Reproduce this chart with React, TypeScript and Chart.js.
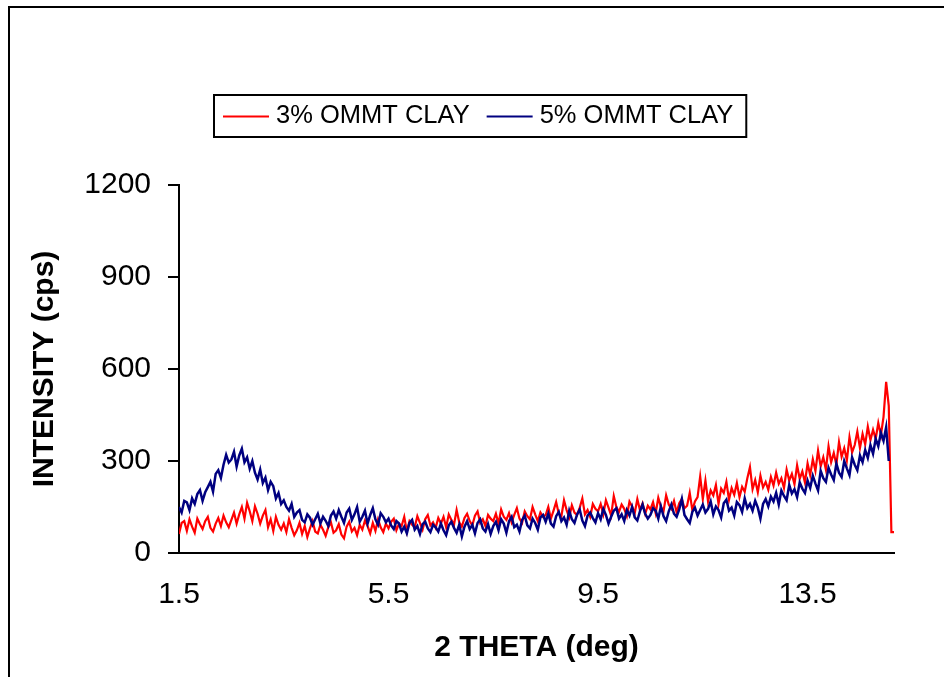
import { useEffect, useRef } from "react";
import { Chart, registerables } from "chart.js";

Chart.register(...registerables);

// ---- data ----
const THETA_START = 1.5;
const THETA_STEP = 0.05;
const X_TICKS = [1.5, 5.5, 9.5, 13.5];
const Y_MIN = 0;
const Y_MAX = 1200;
const Y_STEP = 300;
const SERIES_NAMES = ["3% OMMT CLAY", "5% OMMT CLAY"];
const SERIES_COLORS = ["#FF0000", "#000080"];
const X_TITLE = "2 THETA (deg)";
const Y_TITLE = "INTENSITY (cps)";

// 3% OMMT clay, 2θ = 1.50 ... 15.15 step 0.05
const clay3 = [
  62, 98, 104, 72, 110, 86, 66, 112, 94, 78, 104, 118, 82, 70, 96, 114, 88, 122, 100, 84,
  108, 132, 96, 126, 150, 112, 164, 136, 104, 152, 128, 96, 122, 140, 84, 110, 72, 118, 92, 76,
  96, 68, 110, 82, 58, 74, 98, 62, 88, 52, 80, 104, 70, 64, 92, 76, 56, 84, 100, 66,
  74, 94, 60, 48, 86, 102, 70, 82, 58, 92, 76, 106, 88, 64, 98, 72, 110, 84, 68, 96,
  80, 102, 112, 74, 96, 88, 118, 70, 104, 92, 84, 120, 98, 76, 110, 124, 90, 100, 82, 114,
  96, 118, 84, 126, 108, 92, 140, 100, 86, 114, 128, 104, 90, 122, 136, 98, 110, 88, 124, 112,
  104, 128, 96, 142, 118, 108, 130, 100, 124, 146, 112, 98, 136, 120, 110, 150, 126, 104, 132, 118,
  124, 150, 112, 138, 166, 128, 120, 172, 140, 116, 156, 132, 124, 148, 178, 126, 140, 118, 160, 144,
  136, 160, 126, 172, 148, 122, 186, 150, 134, 158, 144, 120, 168, 152, 130, 176, 140, 162, 128, 154,
  142, 166, 130, 180, 150, 136, 188, 158, 144, 170, 132, 162, 176, 146, 154, 196, 140, 168, 182, 250,
  176, 236, 168, 204, 188, 222, 160, 210, 196, 232, 174, 212, 190, 228, 182, 216, 200, 244, 280, 208,
  238, 198, 252, 214, 232, 206, 248, 220, 262, 226, 244, 212, 272, 236, 258, 224, 286, 242, 266, 230,
  292, 254, 306, 268, 334, 282, 312, 272, 348, 296, 326, 288, 362, 314, 342, 302, 378, 328, 352, 396,
  342, 388, 354, 412, 368, 402, 372, 424, 384, 444, 558, 480, 68, 68,
];

// 5% OMMT clay, 2θ = 1.50 ... 15.05 step 0.05
const clay5 = [
  150, 132, 170, 165, 140, 178, 160, 192, 205, 170, 198, 215, 232, 200, 258, 270, 245, 288, 320, 295,
  305, 330, 282, 318, 340, 296, 312, 275, 300, 262, 240, 272, 228, 246, 205, 232, 218, 178, 196, 160,
  172, 150, 138, 160, 118, 132, 140, 108, 100, 126, 115, 92, 110, 128, 96, 118, 105, 88, 122, 135,
  112, 140, 118, 98, 132, 145, 108, 126, 150, 102, 118, 138, 96, 124, 146, 110, 92, 130, 118, 100,
  112, 90, 78, 104, 96, 70, 86, 64, 98, 108, 76, 88, 62, 94, 102, 80, 68, 92, 84, 70,
  96, 74, 58, 90, 102, 82, 66, 92, 54, 86, 104, 78, 92, 64, 98, 110, 80, 70, 94, 62,
  88, 102, 74, 110, 96, 66, 104, 118, 84, 92, 70, 108, 122, 90, 80, 112, 98, 76, 116, 124,
  102, 128, 96, 86, 120, 134, 104, 116, 92, 138, 110, 98, 126, 142, 106, 88, 122, 132, 114, 100,
  130, 110, 144, 124, 96, 118, 138, 146, 112, 126, 104, 140, 122, 150, 116, 106, 136, 158, 128, 112,
  124, 146, 138, 112, 152, 120, 104, 136, 158, 128, 118, 142, 176, 124, 110, 98, 134, 148, 122, 140,
  158, 132, 144, 168, 126, 152, 140, 116, 162, 174, 138, 148, 122, 166, 156, 134, 178, 146, 160, 138,
  170, 148, 112, 160, 176, 152, 184, 168, 196, 158, 204, 186, 172, 222, 194, 208, 182, 230, 210, 196,
  236, 212, 252, 226, 204, 268, 244, 232, 278, 256, 238, 292, 262, 248, 300, 276, 254, 312, 288, 270,
  318, 296, 336, 310, 352, 324, 372, 348, 392, 366, 410, 300,
];

const X_MAX = THETA_START + (clay3.length - 1) * THETA_STEP;

const toPoints = (vals: number[]) =>
  vals.map((y, i) => ({ x: +(THETA_START + i * THETA_STEP).toFixed(2), y }));

const FONT = "'Liberation Sans', Arial, Helvetica, sans-serif";

const decorPlugin = {
  id: "decor",
  beforeDraw(chart: any) {
    const ctx = chart.ctx as CanvasRenderingContext2D;
    ctx.save();
    ctx.fillStyle = "#ffffff";
    ctx.fillRect(0, 0, chart.width, chart.height);
    ctx.strokeStyle = "#000000";
    ctx.lineWidth = 2;
    ctx.beginPath();
    ctx.moveTo(9, chart.height);
    ctx.lineTo(9, 7);
    ctx.lineTo(chart.width, 7);
    ctx.stroke();
    ctx.restore();
  },
  afterDraw(chart: any) {
    const ctx = chart.ctx as CanvasRenderingContext2D;
    ctx.save();
    ctx.font = `25.5px ${FONT}`;
    ctx.textBaseline = "middle";
    ctx.textAlign = "left";
    const boxLeft = 214;
    const boxTop = 95;
    const boxH = 42;
    const midY = boxTop + boxH / 2 - 0.5;
    let x = boxLeft + 9;
    const lineLen = 46;
    chart.data.datasets.forEach((ds: any, i: number) => {
      ctx.strokeStyle = ds.borderColor;
      ctx.lineWidth = 2;
      ctx.beginPath();
      ctx.moveTo(x, midY + 1);
      ctx.lineTo(x + lineLen, midY + 1);
      ctx.stroke();
      x += lineLen + 7;
      ctx.fillStyle = "#000";
      ctx.fillText(ds.label, x, midY);
      x += ctx.measureText(ds.label).width;
      if (i < chart.data.datasets.length - 1) x += 17;
    });
    const boxRight = x + 13;
    ctx.strokeStyle = "#000";
    ctx.lineWidth = 2;
    ctx.strokeRect(boxLeft, boxTop, boxRight - boxLeft, boxH);
    ctx.restore();
  },
};

export default function App() {
  const ref = useRef<HTMLCanvasElement | null>(null);

  useEffect(() => {
    if (!ref.current) return;
    const chart = new Chart(ref.current, {
      type: "line",
      data: {
        datasets: [
          {
            label: SERIES_NAMES[0],
            data: toPoints(clay3),
            borderColor: SERIES_COLORS[0],
            backgroundColor: SERIES_COLORS[0],
            borderWidth: 2.2,
            pointRadius: 0,
            tension: 0,
            order: 1,
          },
          {
            label: SERIES_NAMES[1],
            data: toPoints(clay5),
            borderColor: SERIES_COLORS[1],
            backgroundColor: SERIES_COLORS[1],
            borderWidth: 2.5,
            pointRadius: 0,
            tension: 0,
            order: 0,
          },
        ],
      },
      options: {
        responsive: false,
        animation: false,
        devicePixelRatio: 1,
        layout: { padding: { left: 27, top: 185, right: 50, bottom: 11 } },
        plugins: {
          legend: { display: false },
          tooltip: { enabled: false },
          title: { display: false },
        },
        scales: {
          x: {
            type: "linear",
            min: THETA_START,
            max: X_MAX,
            afterBuildTicks: (s: any) => {
              s.ticks = X_TICKS.map((v) => ({ value: v }));
            },
            afterFit: (s: any) => {
              s.height = 113;
            },
            ticks: {
              autoSkip: false,
              maxRotation: 0,
              padding: 24,
              color: "#000",
              font: { family: FONT, size: 30 },
              callback: (v: any) => String(v),
            },
            grid: { display: false, drawTicks: false },
            border: { display: true, color: "#000", width: 2 },
            title: {
              display: true,
              text: X_TITLE,
              color: "#000",
              font: { family: FONT, size: 30, weight: "bold" },
              padding: { top: 0, bottom: 0 },
            },
          },
          y: {
            min: Y_MIN,
            max: Y_MAX,
            afterFit: (s: any) => {
              s.width = 152;
            },
            ticks: {
              stepSize: Y_STEP,
              padding: 17,
              color: "#000",
              font: { family: FONT, size: 30 },
              callback: (v: any) => String(v),
            },
            grid: {
              display: true,
              drawOnChartArea: false,
              drawTicks: true,
              tickLength: 11,
              color: "#000",
              lineWidth: 2,
            },
            border: { display: true, color: "#000", width: 2 },
            title: {
              display: true,
              text: Y_TITLE,
              color: "#000",
              font: { family: FONT, size: 30, weight: "bold" },
              padding: { top: 0, bottom: 0 },
            },
          },
        },
      },
      plugins: [decorPlugin],
    });
    return () => chart.destroy();
  }, []);

  return (
    <div style={{ position: "fixed", left: 0, top: 0, width: 944, height: 677, background: "#fff" }}>
      <canvas ref={ref} width={944} height={677} style={{ display: "block" }} />
    </div>
  );
}
